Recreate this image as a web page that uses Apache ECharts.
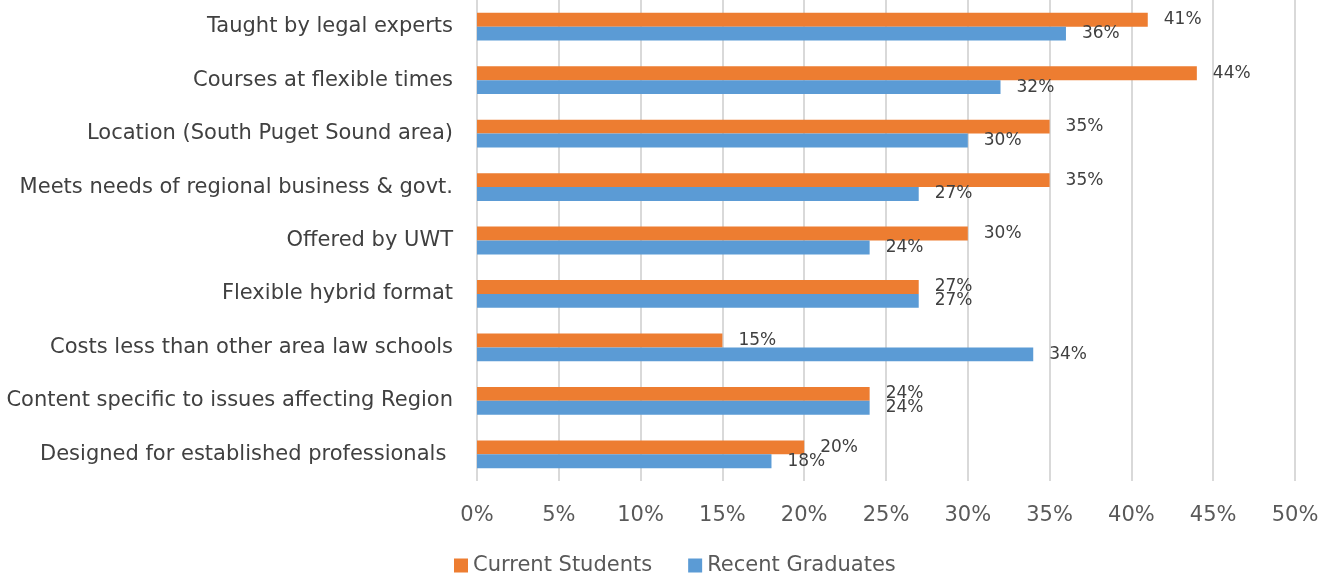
<!DOCTYPE html>
<html>
<head>
<meta charset="utf-8">
<script src="https://cdn.jsdelivr.net/npm/echarts@6/dist/echarts.min.js"></script>
<style>
  html, body { margin: 0; padding: 0; background: #fff; }
  #chart { width: 1336px; height: 582px; }
</style>
</head>
<body>
<div id="chart"></div>
<script>
// categories, top to bottom
const categories = [
  "Taught by legal experts",
  "Courses at flexible times",
  "Location (South Puget Sound area)",
  "Meets needs of regional business & govt.",
  "Offered by UWT",
  "Flexible hybrid format",
  "Costs less than other area law schools",
  "Content specific to issues affecting Region",
  "Designed for established professionals "
];
const currentStudents = [41, 44, 35, 35, 30, 27, 15, 24, 20];
const recentGraduates = [36, 32, 30, 27, 24, 27, 34, 24, 18];
const seriesNames = ["Current Students", "Recent Graduates"];

const font = "DejaVu Sans";

let chart = echarts.init(document.getElementById("chart"));

const valueLabel = {
  show: true,
  position: "right",
  distance: 16,
  formatter: "{c}%",
  color: "#404040",
  fontFamily: font,
  fontSize: 17
};

chart.setOption({
  animation: false,
  textStyle: { fontFamily: font },
  grid: { left: 477, right: 41, top: 0, bottom: 101 },
  legend: {
    data: seriesNames,
    bottom: 6,
    left: 454,
    padding: 0,
    itemWidth: 14,
    itemHeight: 14,
    itemGap: 36,
    icon: "rect",
    textStyle: { color: "#595959", fontSize: 21, fontFamily: font }
  },
  xAxis: {
    type: "value",
    min: 0,
    max: 50,
    interval: 5,
    axisLine: { show: false },
    axisTick: { show: false },
    axisLabel: {
      formatter: "{value}%",
      color: "#595959",
      fontSize: 21,
      fontFamily: font,
      margin: 24
    },
    splitLine: { lineStyle: { color: "#d9d9d9", width: 2 } }
  },
  yAxis: {
    type: "category",
    inverse: true,
    data: categories,
    axisLine: { show: false },
    axisTick: { show: false },
    axisLabel: {
      color: "#404040",
      fontSize: 21,
      fontFamily: font,
      margin: 24
    }
  },
  series: [
    {
      name: seriesNames[0],
      type: "bar",
      data: currentStudents,
      barGap: "0%",
      barCategoryGap: "48%",
      itemStyle: { color: "#ED7D31" },
      label: valueLabel
    },
    {
      name: seriesNames[1],
      type: "bar",
      data: recentGraduates,
      barGap: "0%",
      barCategoryGap: "48%",
      itemStyle: { color: "#5B9BD5" },
      label: valueLabel
    }
  ]
});
</script>
</body>
</html>
